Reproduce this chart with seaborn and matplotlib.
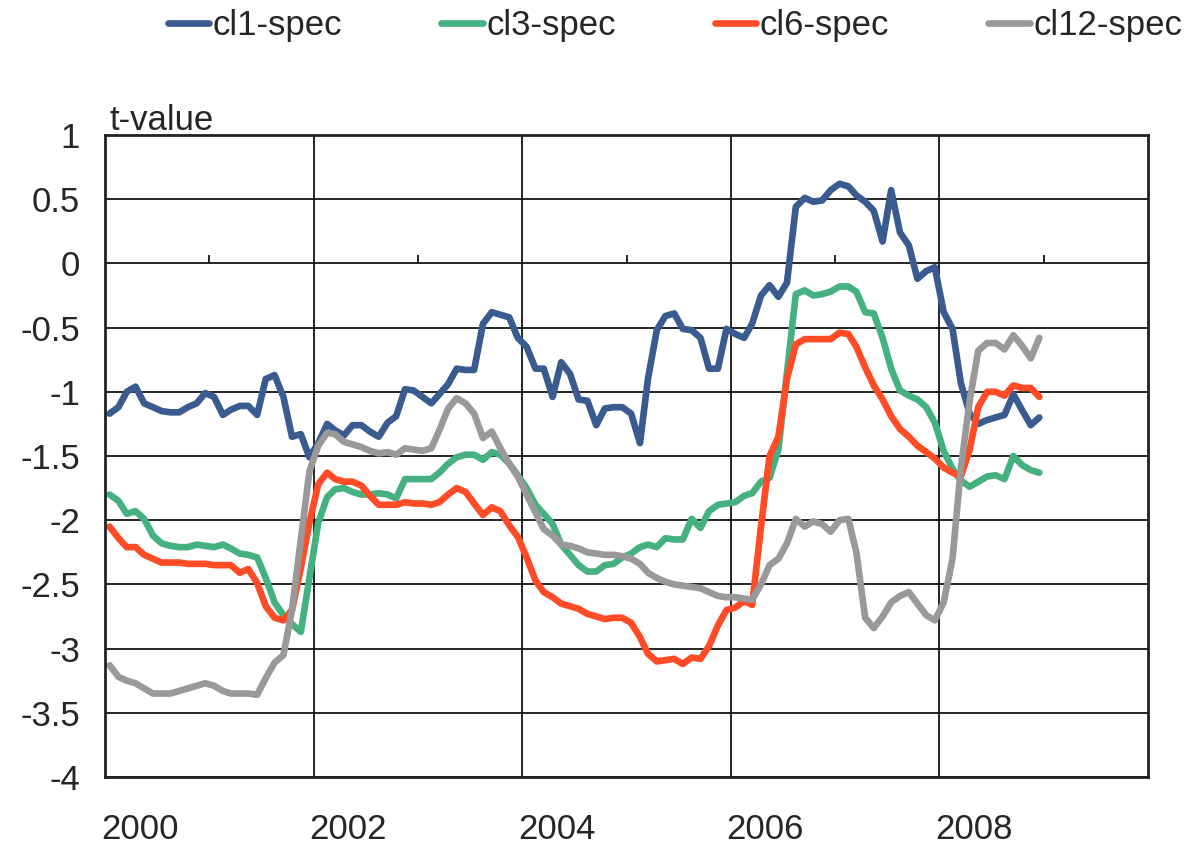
import pandas as pd
import numpy as np
import matplotlib.pyplot as plt
import seaborn as sns

# monthly t-values, Jan 2000 - Dec 2008
cl1_spec = [-1.17, -1.12, -1.00, -0.96, -1.09, -1.12, -1.15, -1.16, -1.16, -1.12,
            -1.09, -1.01, -1.04, -1.18, -1.14, -1.11, -1.11, -1.18, -0.90, -0.87,
            -1.04, -1.35, -1.33, -1.51, -1.40, -1.25, -1.30, -1.34, -1.26, -1.26,
            -1.31, -1.35, -1.24, -1.19, -0.98, -0.99, -1.04, -1.09, -1.02, -0.94,
            -0.82, -0.83, -0.83, -0.47, -0.38, -0.40, -0.42, -0.58, -0.65, -0.82,
            -0.82, -1.04, -0.77, -0.86, -1.06, -1.07, -1.26, -1.13, -1.12, -1.12,
            -1.17, -1.40, -0.90, -0.52, -0.41, -0.39, -0.51, -0.52, -0.58, -0.82,
            -0.82, -0.51, -0.55, -0.58, -0.47, -0.25, -0.17, -0.26, -0.15, 0.44,
            0.51, 0.48, 0.49, 0.57, 0.62, 0.60, 0.53, 0.48, 0.41, 0.17,
            0.57, 0.24, 0.14, -0.12, -0.06, -0.03, -0.38, -0.51, -0.93, -1.17,
            -1.25, -1.22, -1.20, -1.18, -1.02, -1.14, -1.26, -1.20]

cl3_spec = [-1.80, -1.85, -1.95, -1.93, -1.99, -2.12, -2.18, -2.20, -2.21, -2.21,
            -2.19, -2.20, -2.21, -2.19, -2.22, -2.26, -2.27, -2.29, -2.45, -2.64,
            -2.74, -2.81, -2.87, -2.45, -2.02, -1.82, -1.76, -1.75, -1.78, -1.80,
            -1.80, -1.79, -1.80, -1.83, -1.68, -1.68, -1.68, -1.68, -1.63, -1.56,
            -1.51, -1.49, -1.49, -1.53, -1.47, -1.49, -1.56, -1.65, -1.75, -1.88,
            -1.95, -2.03, -2.19, -2.27, -2.35, -2.40, -2.40, -2.35, -2.34, -2.29,
            -2.26, -2.21, -2.19, -2.21, -2.14, -2.15, -2.15, -1.99, -2.06, -1.93,
            -1.88, -1.87, -1.86, -1.81, -1.79, -1.70, -1.67, -1.45, -0.85, -0.24,
            -0.21, -0.25, -0.24, -0.22, -0.18, -0.18, -0.22, -0.38, -0.39, -0.58,
            -0.82, -0.99, -1.03, -1.06, -1.12, -1.24, -1.46, -1.60, -1.69, -1.74,
            -1.70, -1.66, -1.65, -1.68, -1.50, -1.57, -1.61, -1.63]

cl6_spec = [-2.05, -2.14, -2.21, -2.21, -2.27, -2.30, -2.33, -2.33, -2.33, -2.34,
            -2.34, -2.34, -2.35, -2.35, -2.35, -2.41, -2.38, -2.49, -2.67, -2.76,
            -2.78, -2.70, -2.37, -2.02, -1.72, -1.63, -1.68, -1.70, -1.70, -1.73,
            -1.81, -1.88, -1.88, -1.88, -1.86, -1.87, -1.87, -1.88, -1.86, -1.80,
            -1.75, -1.78, -1.87, -1.96, -1.90, -1.93, -2.04, -2.13, -2.29, -2.47,
            -2.56, -2.60, -2.65, -2.67, -2.69, -2.73, -2.75, -2.77, -2.76, -2.76,
            -2.80, -2.91, -3.04, -3.10, -3.09, -3.08, -3.12, -3.07, -3.08, -2.98,
            -2.82, -2.70, -2.68, -2.63, -2.66, -2.05, -1.50, -1.35, -0.90, -0.63,
            -0.59, -0.59, -0.59, -0.59, -0.54, -0.55, -0.65, -0.81, -0.95, -1.06,
            -1.19, -1.29, -1.35, -1.42, -1.47, -1.52, -1.59, -1.63, -1.66, -1.45,
            -1.12, -1.00, -1.00, -1.03, -0.95, -0.97, -0.97, -1.04]

cl12_spec = [-3.13, -3.22, -3.25, -3.27, -3.31, -3.35, -3.35, -3.35, -3.33, -3.31,
             -3.29, -3.27, -3.29, -3.33, -3.35, -3.35, -3.35, -3.36, -3.23, -3.11,
             -3.05, -2.70, -2.15, -1.62, -1.42, -1.32, -1.33, -1.39, -1.41, -1.43,
             -1.46, -1.48, -1.47, -1.49, -1.44, -1.45, -1.46, -1.44, -1.30, -1.13,
             -1.05, -1.09, -1.17, -1.36, -1.31, -1.44, -1.56, -1.66, -1.80, -1.94,
             -2.07, -2.12, -2.19, -2.20, -2.22, -2.25, -2.26, -2.27, -2.27, -2.28,
             -2.30, -2.34, -2.41, -2.45, -2.48, -2.50, -2.51, -2.52, -2.53, -2.56,
             -2.59, -2.60, -2.60, -2.61, -2.62, -2.50, -2.35, -2.30, -2.18, -1.99,
             -2.05, -2.01, -2.03, -2.09, -2.00, -1.99, -2.25, -2.76, -2.84, -2.75,
             -2.64, -2.59, -2.56, -2.65, -2.74, -2.78, -2.64, -2.30, -1.60, -1.07,
             -0.68, -0.62, -0.62, -0.67, -0.56, -0.64, -0.74, -0.58]

series_names = ["cl1-spec", "cl3-spec", "cl6-spec", "cl12-spec"]
colors = ["#3A5B8F", "#45B080", "#FF4B26", "#999999"]
y_ticks = [1, 0.5, 0, -0.5, -1, -1.5, -2, -2.5, -3, -3.5, -4]
y_labels = ["1", "0.5", "0", "-0.5", "-1", "-1.5", "-2", "-2.5", "-3", "-3.5", "-4"]
year_labels = ["2000", "2002", "2004", "2006", "2008"]

# points sit mid-month on a date axis
months = pd.date_range("2000-01-01", periods=108, freq="MS") + pd.Timedelta(days=16)
df = pd.DataFrame({"date": np.tile(months, 4),
                   "value": cl1_spec + cl3_spec + cl6_spec + cl12_spec,
                   "series": np.repeat(series_names, 108)})

sns.set_style("white")
plt.rcParams["font.family"] = ["Liberation Sans", "DejaVu Sans"]

fig = plt.figure(figsize=(12.03, 8.5), dpi=100)
ax = fig.add_axes([0.0873, 0.0859, 0.8668, 0.7553])

sns.lineplot(data=df, x="date", y="value", hue="series", hue_order=series_names,
             palette=colors, linewidth=4.8, ax=ax, legend=False)

ax.set_xlim(pd.Timestamp("2000-01-01"), pd.Timestamp("2010-01-01"))
ax.set_ylim(-4, 1)

# gridlines
for yt in y_ticks:
    ax.axhline(yt, color="black", lw=1.2, zorder=0)
for yr in ["2002", "2004", "2006", "2008"]:
    ax.axvline(pd.Timestamp(yr + "-01-01"), color="black", lw=1.2, zorder=0)
# small marks on the zero line at odd years
ax.vlines([pd.Timestamp(y + "-01-01") for y in ["2001", "2003", "2005", "2007", "2009"]],
          0, 0.065, color="black", lw=1.2)

ax.set_yticks(y_ticks)
ax.set_yticklabels(y_labels, fontsize=25)
ax.set_xticks([pd.Timestamp(y + "-05-01") for y in year_labels])
ax.set_xticklabels(year_labels, fontsize=25)
ax.tick_params(axis="both", length=0)
ax.tick_params(axis="y", pad=18)
ax.tick_params(axis="x", pad=26)
ax.set_xlabel("")
ax.set_ylabel("")

for s in ax.spines.values():
    s.set_visible(True)
    s.set_color("#222222")
    s.set_linewidth(2)

ax.text(0.004, 0.997, "t-value", transform=ax.transAxes, fontsize=25,
        ha="left", va="bottom")

handles = [plt.Line2D([], [], color=c, lw=4.8, solid_capstyle="round") for c in colors]
fig.legend(handles, series_names, loc="upper center", bbox_to_anchor=(0.561, 1.01),
           ncol=4, frameon=False, fontsize=25, handlelength=1.2, handletextpad=0.1,
           columnspacing=2.85, borderaxespad=0.1)

fig.savefig("out.png", dpi=100)
